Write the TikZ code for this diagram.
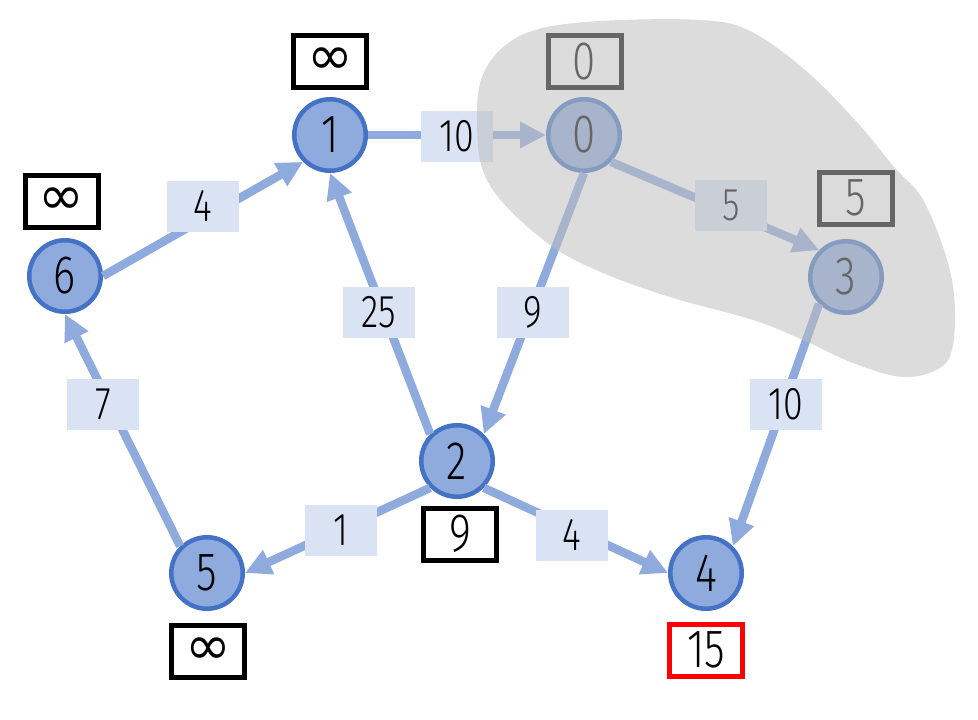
\documentclass[tikz,border=0pt]{standalone}
\usepackage{fontspec}
\setmainfont{Fira Sans}[UprightFont=* Light, FakeStretch=0.78]
\newfontfamily\symfont{DejaVu Sans}
\usetikzlibrary{arrows.meta}
\definecolor{nodefill}{HTML}{8FAADC}
\definecolor{nodeline}{HTML}{4472C4}
\definecolor{edgeblue}{HTML}{8FAADC}
\definecolor{labelfill}{HTML}{DAE3F3}
\definecolor{settledgrey}{HTML}{BEBEBE}
\newcommand{\infsym}{{\symfont\fontsize{55}{55}\selectfont ∞}}
\tikzset{
  vertex/.style={circle, draw=nodeline, fill=nodefill, line width=4.5pt,
    minimum size=71.5pt, inner sep=0pt, font=\fontsize{54}{54}\selectfont},
  dist/.style={draw=black, fill=white, line width=5pt, minimum width=73pt,
    minimum height=52pt, inner sep=0pt, font=\fontsize{54}{54}\selectfont},
  weight/.style={fill=labelfill, minimum width=72pt, minimum height=51pt,
    inner sep=0pt, font=\fontsize{46}{46}\selectfont},
  edge/.style={draw=edgeblue, line width=8.5pt,
    -{Triangle[length=26pt,width=25pt]}},
}
\begin{document}
\begin{tikzpicture}[x=1pt,y=-1pt]
\useasboundingbox (0,0) rectangle (978,720);

% vertices
\node[vertex] (n0) at (584,135) {0};
\node[vertex] (n1) at (330,135) {1};
\node[vertex] (n2) at (457,461) {2};
\node[vertex] (n3) at (846,277) {3};
\node[vertex] (n4) at (706,573) {4};
\node[vertex] (n5) at (207,573) {5};
\node[vertex] (n6) at (65,276) {6};

% tentative distances
\node[dist] (d0) at (584.5,61.5) {0};
\node[dist] (d1) at (330,61.5) {\infsym};
\node[dist] (d2) at (460,534) {9};
\node[dist] (d3) at (856,198) {5};
\node[dist, draw=red] (d4) at (706,650) {15};
\node[dist] (d5) at (208,651) {\infsym};
\node[dist] (d6) at (61.7,201.5) {\infsym};

% directed edges
\draw[edge] (n1.east) -- (n0.west);
\draw[edge] (n6.east) -- (n1.south west);
\draw[edge] (n2.north west) -- (n1.south);
\draw[edge] (n0.south) -- (n2.north east);
\draw[edge] (n0.south east) -- (n3.north west);
\draw[edge] (n3.south west) -- (n4.north east);
\draw[edge] (n2.south east) -- (n4.west);
\draw[edge] (n2.south west) -- (n5.east);
\draw[edge] (n5.north west) -- (n6.south);

% edge weights
\node[weight] (w10) at (457,136) {10};
\node[weight] (w61) at (203,206) {4};
\node[weight] (w21) at (379,312) {25};
\node[weight] (w02) at (533,312) {9};
\node[weight] (w03) at (731,205) {5};
\node[weight] (w56) at (103,404) {7};
\node[weight] (w34) at (786,404) {10};
\node[weight] (w25) at (341,530) {1};
\node[weight] (w24) at (572,535) {4};

% settled region
\fill[settledgrey, opacity=0.54] plot[smooth cycle, tension=0.6] coordinates {
  (477,120) (481,80) (500,50) (535,30) (600,21) (700,20) (750,31)
  (805,70) (855,120) (895,168) (922,198) (944,250) (954,295) (953,345)
  (940,368) (903,377) (853,363) (803,340) (753,320) (670,297) (603,273)
  (553,247) (505,205) (482,168)};
\end{tikzpicture}
\end{document}
